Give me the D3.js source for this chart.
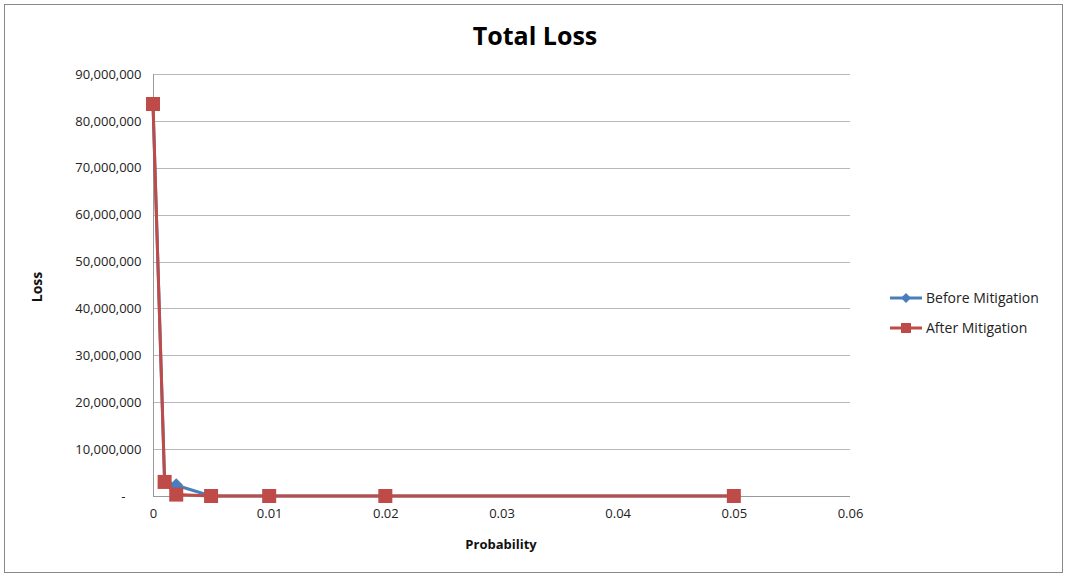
<!DOCTYPE html>
<html><head><meta charset="utf-8">
<script src="https://cdn.jsdelivr.net/npm/d3@7"></script>
<style>body{margin:0;background:#fff}svg{display:block}text{font-family:"Liberation Sans Narrow","Open Sans",sans-serif}</style>
</head><body><svg id="c" width="1065" height="576"></svg>
<script>
const probability = [0, 0.001, 0.002, 0.005, 0.01, 0.02, 0.05];
const beforeMitigation = [83600000, 3000000, 2300000, 0, 0, 0, 0];
const afterMitigation = [83600000, 3000000, 300000, 0, 0, 0, 0];
const yTicks = [0, 10000000, 20000000, 30000000, 40000000, 50000000, 60000000, 70000000, 80000000, 90000000];
const xTicks = [0, 0.01, 0.02, 0.03, 0.04, 0.05, 0.06];
const seriesNames = ["Before Mitigation", "After Mitigation"];
const colors = ["#4a7ebb", "#be4b48"];

const svg = d3.select("#c");
svg.append("rect").attr("x", 4.5).attr("y", 4.5).attr("width", 1058).attr("height", 568)
  .attr("fill", "#fff").attr("stroke", "#888").attr("stroke-width", 1);

const L = 153, R = 850, T = 74, B = 496;
const x = d3.scaleLinear().domain([0, 0.06]).range([L, R]);
const y = d3.scaleLinear().domain([0, 90000000]).range([B, T]);

svg.append("g").selectAll("line").data(yTicks.filter(d => d > 0)).join("line")
  .attr("x1", L).attr("x2", R).attr("y1", d => Math.round(y(d)) + 0.5).attr("y2", d => Math.round(y(d)) + 0.5)
  .attr("stroke", "#b8b8b8").attr("stroke-width", 1);

const fmt = d3.format(",");
const yAxis = d3.axisLeft(y).tickValues(yTicks).tickSize(0).tickPadding(12)
  .tickFormat(d => d === 0 ? "-" : fmt(d));
const gy = svg.append("g").attr("transform", `translate(${L + 0.5},0)`).call(yAxis);
gy.selectAll("path,line").attr("stroke", "#999");
gy.select("path").attr("d", `M0,${T}V${B}`);
gy.selectAll("text").attr("font-size", 13).attr("fill", "#222").attr("dx", d => d === 0 ? -16 : 0);

const xAxis = d3.axisBottom(x).tickValues(xTicks).tickSize(0).tickPadding(12)
  .tickFormat(d => d === 0 ? "0" : d3.format(".2f")(d));
const gx = svg.append("g").attr("transform", `translate(0,${B + 0.5})`).call(xAxis);
gx.selectAll("path,line").attr("stroke", "#999");
gx.select("path").attr("d", `M${L},0H${R}`);
gx.selectAll("text").attr("font-size", 13).attr("fill", "#222");

svg.append("text").attr("x", 535).attr("y", 45).attr("text-anchor", "middle")
  .attr("font-size", 25).attr("font-weight", "bold").attr("fill", "#000").text("Total Loss");
svg.append("text").attr("x", 501).attr("y", 549).attr("text-anchor", "middle")
  .attr("font-size", 13).attr("font-weight", "bold").attr("fill", "#111").text("Probability");
svg.append("text").attr("transform", "translate(42,287) rotate(-90)").attr("text-anchor", "middle")
  .attr("font-size", 14).attr("font-weight", "bold").attr("fill", "#111").text("Loss");

const data = [beforeMitigation, afterMitigation];
const line = d3.line().x((d, i) => x(probability[i])).y(d => y(d));
data.forEach((vals, s) => {
  svg.append("path").datum(vals).attr("d", line).attr("fill", "none")
    .attr("stroke", colors[s]).attr("stroke-width", 3).attr("stroke-linejoin", "round");
  const g = svg.append("g");
  vals.forEach((v, i) => {
    const cx = x(probability[i]), cy = y(v);
    if (s === 0) {
      g.append("path").attr("d", `M${cx},${cy - 7}L${cx + 7},${cy}L${cx},${cy + 7}L${cx - 7},${cy}Z`).attr("fill", colors[s]);
    } else {
      g.append("rect").attr("x", cx - 7).attr("y", cy - 7).attr("width", 14).attr("height", 14).attr("fill", colors[s]);
    }
  });
});

seriesNames.forEach((name, s) => {
  const ly = 298 + s * 30;
  svg.append("line").attr("x1", 890).attr("x2", 922).attr("y1", ly).attr("y2", ly)
    .attr("stroke", colors[s]).attr("stroke-width", 3);
  if (s === 0) svg.append("path").attr("d", `M906,${ly - 5}L911,${ly}L906,${ly + 5}L901,${ly}Z`).attr("fill", colors[s]);
  else svg.append("rect").attr("x", 901).attr("y", ly - 5).attr("width", 10).attr("height", 10).attr("fill", colors[s]);
  svg.append("text").attr("x", 926).attr("y", ly + 5).attr("font-size", 14).attr("fill", "#222").text(name);
});
</script></body></html>
